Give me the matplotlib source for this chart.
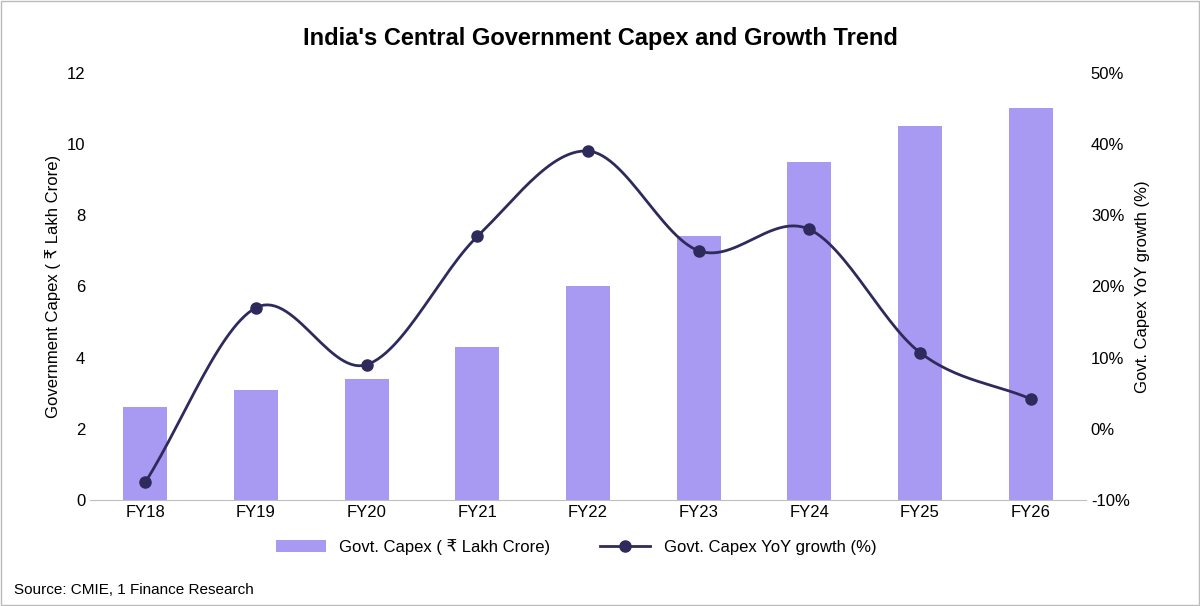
#!/usr/bin/env python3
# -*- coding: utf-8 -*-
"""
Capex chart: bars for government capex, smooth line for YoY growth.
"""

import numpy as np
import matplotlib.pyplot as plt
from matplotlib.patches import Rectangle

plt.rcParams['font.family'] = ['Liberation Sans', 'DejaVu Sans']

YEARS = ['FY18', 'FY19', 'FY20', 'FY21', 'FY22', 'FY23', 'FY24', 'FY25', 'FY26']
CAPEX = [2.6, 3.1, 3.4, 4.3, 6.0, 7.4, 9.5, 10.5, 11.0]
GROWTH = [-7.5, 17.0, 9.0, 27.0, 39.0, 25.0, 28.0, 10.7, 4.2]


def smooth_curve(x, y, n=30):
    """Catmull-Rom сглаживание для отрисовки линии."""
    x = np.asarray(x, float)
    y = np.asarray(y, float)
    px = np.concatenate([[2 * x[0] - x[1]], x, [2 * x[-1] - x[-2]]])
    py = np.concatenate([[2 * y[0] - y[1]], y, [2 * y[-1] - y[-2]]])
    xs, ys = [], []
    t = np.linspace(0, 1, n)
    for i in range(1, len(px) - 2):
        for p, out in ((px, xs), (py, ys)):
            p0, p1, p2, p3 = p[i - 1], p[i], p[i + 1], p[i + 2]
            out.extend(0.5 * (2 * p1 + (-p0 + p2) * t + (2 * p0 - 5 * p1 + 4 * p2 - p3) * t ** 2
                              + (-p0 + 3 * p1 - 3 * p2 + p3) * t ** 3))
    return np.array(xs), np.array(ys)


def plot_chart(output_path):
    fig, ax1 = plt.subplots(figsize=(12, 6.06), dpi=100)
    fig.subplots_adjust(left=0.075, right=0.905, top=0.88, bottom=0.175)
    fig.patches.append(Rectangle((0.001, 0.002), 0.998, 0.996, transform=fig.transFigure,
                                 fill=False, edgecolor='#bbbbbb', linewidth=1))
    fig.suptitle("India's Central Government Capex and Growth Trend", fontsize=17,
                 fontweight='bold', y=0.955)

    x = np.arange(len(YEARS))
    bars = ax1.bar(x, CAPEX, width=0.4, color='#A899F2', label='Govt. Capex ( ₹ Lakh Crore)')
    ax1.set_ylim(0, 12)
    ax1.set_yticks(range(0, 13, 2))
    ax1.set_xlim(-0.5, len(YEARS) - 0.5)
    ax1.set_xticks(x, YEARS)
    ax1.set_ylabel('Government Capex ( ₹ Lakh Crore)', fontsize=12)
    ax1.tick_params(labelsize=12, length=0)
    for s in ('top', 'right', 'left'):
        ax1.spines[s].set_visible(False)
    ax1.spines['bottom'].set_color('#bfbfbf')

    ax2 = ax1.twinx()
    sx, sy = smooth_curve(x, GROWTH)
    ax2.plot(sx, sy, color='#2E2A5C', linewidth=2)
    line, = ax2.plot(x, GROWTH, color='#2E2A5C', linewidth=2, marker='o', markersize=8,
                     linestyle='none', label='Govt. Capex YoY growth (%)')
    ax2.set_ylim(-10, 50)
    ax2.set_yticks(range(-10, 51, 10))
    ax2.set_yticklabels([f'{v}%' for v in range(-10, 51, 10)])
    ax2.set_ylabel('Govt. Capex YoY growth (%)', fontsize=12)
    ax2.tick_params(labelsize=12, length=0)
    for s in ax2.spines.values():
        s.set_visible(False)

    from matplotlib.lines import Line2D
    proxy = Line2D([], [], color='#2E2A5C', linewidth=2, marker='o', markersize=8)
    fig.legend([bars, proxy], [bars.get_label(), line.get_label()], loc='lower center',
               bbox_to_anchor=(0.48, 0.06), ncol=2, frameon=False, fontsize=12,
               handlelength=3, columnspacing=3)
    fig.text(0.012, 0.02, 'Source: CMIE, 1 Finance Research', fontsize=11)

    plt.savefig(output_path, dpi=100)
    plt.close()


def main():
    plot_chart('out.png')


if __name__ == "__main__":
    main()
